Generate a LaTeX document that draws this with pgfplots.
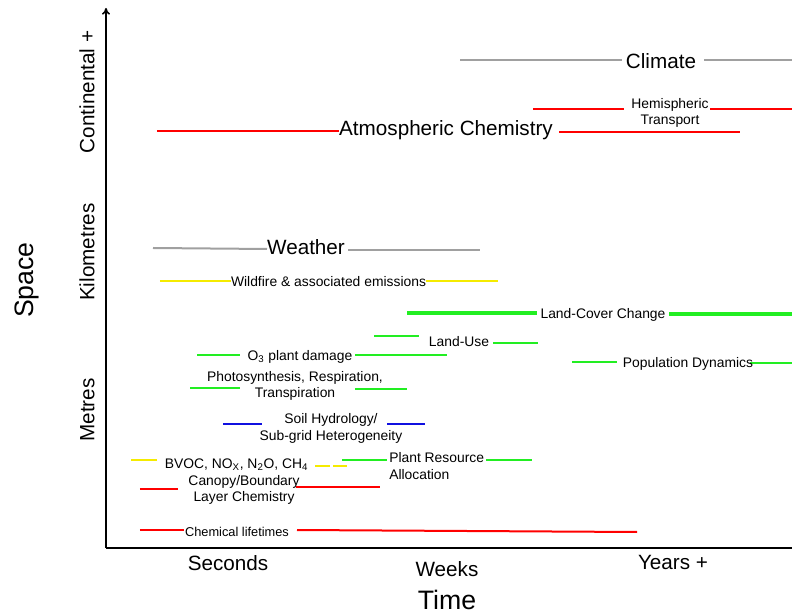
\documentclass[border=0pt]{standalone}
\usepackage{pgfplots}
\pgfplotsset{compat=1.18}
\usepackage{fontspec}
\setmainfont{Liberation Sans}
\usetikzlibrary{arrows.meta}
\definecolor{lgray}{HTML}{A0A0A0}
\definecolor{lred}{HTML}{FF0000}
\definecolor{lyel}{HTML}{F5EB00}
\definecolor{lgreen}{HTML}{22EE22}
\definecolor{lblue}{HTML}{1010E0}
\newcommand{\bigf}{\fontsize{15.5}{18}\selectfont}
\newcommand{\medf}{\fontsize{10.4}{12.4}\selectfont}
\newcommand{\smlf}{\fontsize{9.6}{11.5}\selectfont}
\begin{document}
\begin{tikzpicture}
\begin{axis}[
  scale only axis, width=514.5pt, height=405pt,
  xmin=106, xmax=792, ymin=66, ymax=606,
  axis lines=left,
  axis line style={line width=1.2pt, black},
  x axis line style={-},
  y axis line style={-{To[length=5pt,width=6pt]}},
  major tick length=0pt,
  xtick={228,673}, xticklabels={Seconds,Years +},
  extra x ticks={447}, extra x tick labels={Weeks},
  extra x tick style={tick label style={yshift=-4.5pt}},
  xticklabel shift=2.3pt,
  ytick={204,362,522}, yticklabels={Metres,Kilometres,Continental +},
  yticklabel style={rotate=90, anchor=south},
  yticklabel shift=5pt,
  tick label style={font=\bigf},
  clip=false,
]
\coordinate (bl) at (axis cs:0,0);
\coordinate (tr) at (axis cs:792,614);
% Climate
\addplot[lgray, line width=1.5pt] coordinates {(460,554) (622,554)};
\addplot[lgray, line width=1.5pt] coordinates {(704,554) (792,554)};
\node[font=\bigf] at (axis cs:661,553) {Climate};
% Hemispheric transport
\addplot[lred, line width=1.5pt] coordinates {(533,505) (624,505)};
\addplot[lred, line width=1.5pt] coordinates {(710,505) (792,505)};
\node[font=\medf, align=center] at (axis cs:670,501) {Hemispheric\\Transport};
% Atmospheric chemistry
\addplot[lred, line width=1.5pt] coordinates {(157,483) (339,483)};
\addplot[lred, line width=1.5pt] coordinates {(559,482) (740,482)};
\node[font=\bigf] at (axis cs:446,483.5) {Atmospheric Chemistry};
% Weather
\addplot[lgray, line width=1.5pt] coordinates {(153,366) (267,365)};
\addplot[lgray, line width=1.5pt] coordinates {(348,364) (480,364)};
\node[font=\bigf] at (axis cs:306,366.5) {Weather};
% Wildfire
\addplot[lyel, line width=1.5pt] coordinates {(160,333) (231,333)};
\addplot[lyel, line width=1.5pt] coordinates {(426,333) (498,333)};
\node[font=\medf] at (axis cs:328.5,332) {Wildfire \& associated emissions};
% Land-cover change
\addplot[lgreen, line width=2.3pt] coordinates {(407,301) (537,301)};
\addplot[lgreen, line width=2.3pt] coordinates {(669,300) (792,300)};
\node[font=\medf] at (axis cs:603,299) {Land-Cover Change};
% Land-use
\addplot[lgreen, line width=1.5pt] coordinates {(374,278) (419,278)};
\addplot[lgreen, line width=1.5pt] coordinates {(493,271) (538,271)};
\node[font=\medf] at (axis cs:459,272) {Land-Use};
% Population dynamics
\addplot[lgreen, line width=1.5pt] coordinates {(572,252) (617,252)};
\addplot[lgreen, line width=1.5pt] coordinates {(750,251) (792,251)};
\node[font=\medf] at (axis cs:688,250.5) {Population Dynamics};
% O3 plant damage
\addplot[lgreen, line width=1.5pt] coordinates {(197,259) (240,259)};
\addplot[lgreen, line width=1.5pt] coordinates {(355,259) (447,259)};
\node[font=\medf] at (axis cs:300,257.5) {O\textsubscript{3} plant damage};
% Photosynthesis
\addplot[lgreen, line width=1.5pt] coordinates {(190,226) (240,226)};
\addplot[lgreen, line width=1.5pt] coordinates {(355,225) (407,225)};
\node[font=\medf, align=center] at (axis cs:295,228) {Photosynthesis, Respiration,\\Transpiration};
% Soil hydrology
\addplot[lblue, line width=1.5pt] coordinates {(223,190) (262,190)};
\addplot[lblue, line width=1.5pt] coordinates {(387,190) (425,190)};
\node[font=\medf, align=center] at (axis cs:331,185.5) {Soil Hydrology/\\Sub-grid Heterogeneity};
% BVOC
\addplot[lyel, line width=1.5pt] coordinates {(131,154) (157,154)};
\addplot[lyel, line width=1.5pt] coordinates {(315,148) (330,148)};
\addplot[lyel, line width=1.5pt] coordinates {(333,148) (347,148)};
\node[font=\medf] at (axis cs:236.5,149) {BVOC, NO\textsubscript{X}, N\textsubscript{2}O, CH\textsubscript{4}};
% Plant resource allocation
\addplot[lgreen, line width=1.5pt] coordinates {(342,154) (387,154)};
\addplot[lgreen, line width=1.5pt] coordinates {(486,154) (532,154)};
\node[font=\medf, align=left, anchor=west, inner sep=0pt] at (axis cs:389,148) {Plant Resource\\Allocation};
% Canopy/boundary
\addplot[lred, line width=1.5pt] coordinates {(140,125) (178,125)};
\addplot[lred, line width=1.5pt] coordinates {(296,127) (380,127)};
\node[font=\medf, align=center] at (axis cs:244,124) {Canopy/Boundary\\Layer Chemistry};
% Chemical lifetimes
\addplot[lred, line width=1.5pt] coordinates {(140,84) (184,84)};
\addplot[lred, line width=1.5pt] coordinates {(297,84) (637,82)};
\node[font=\smlf] at (axis cs:237,82) {Chemical lifetimes};
% Axis titles
\node[font=\fontsize{20}{24}\selectfont, rotate=90] at (axis cs:27,334) {Space};
\node[font=\fontsize{20}{24}\selectfont] at (axis cs:447,14) {Time};
\end{axis}
\pgfresetboundingbox
\useasboundingbox (bl) rectangle (tr);
\end{tikzpicture}
\end{document}
